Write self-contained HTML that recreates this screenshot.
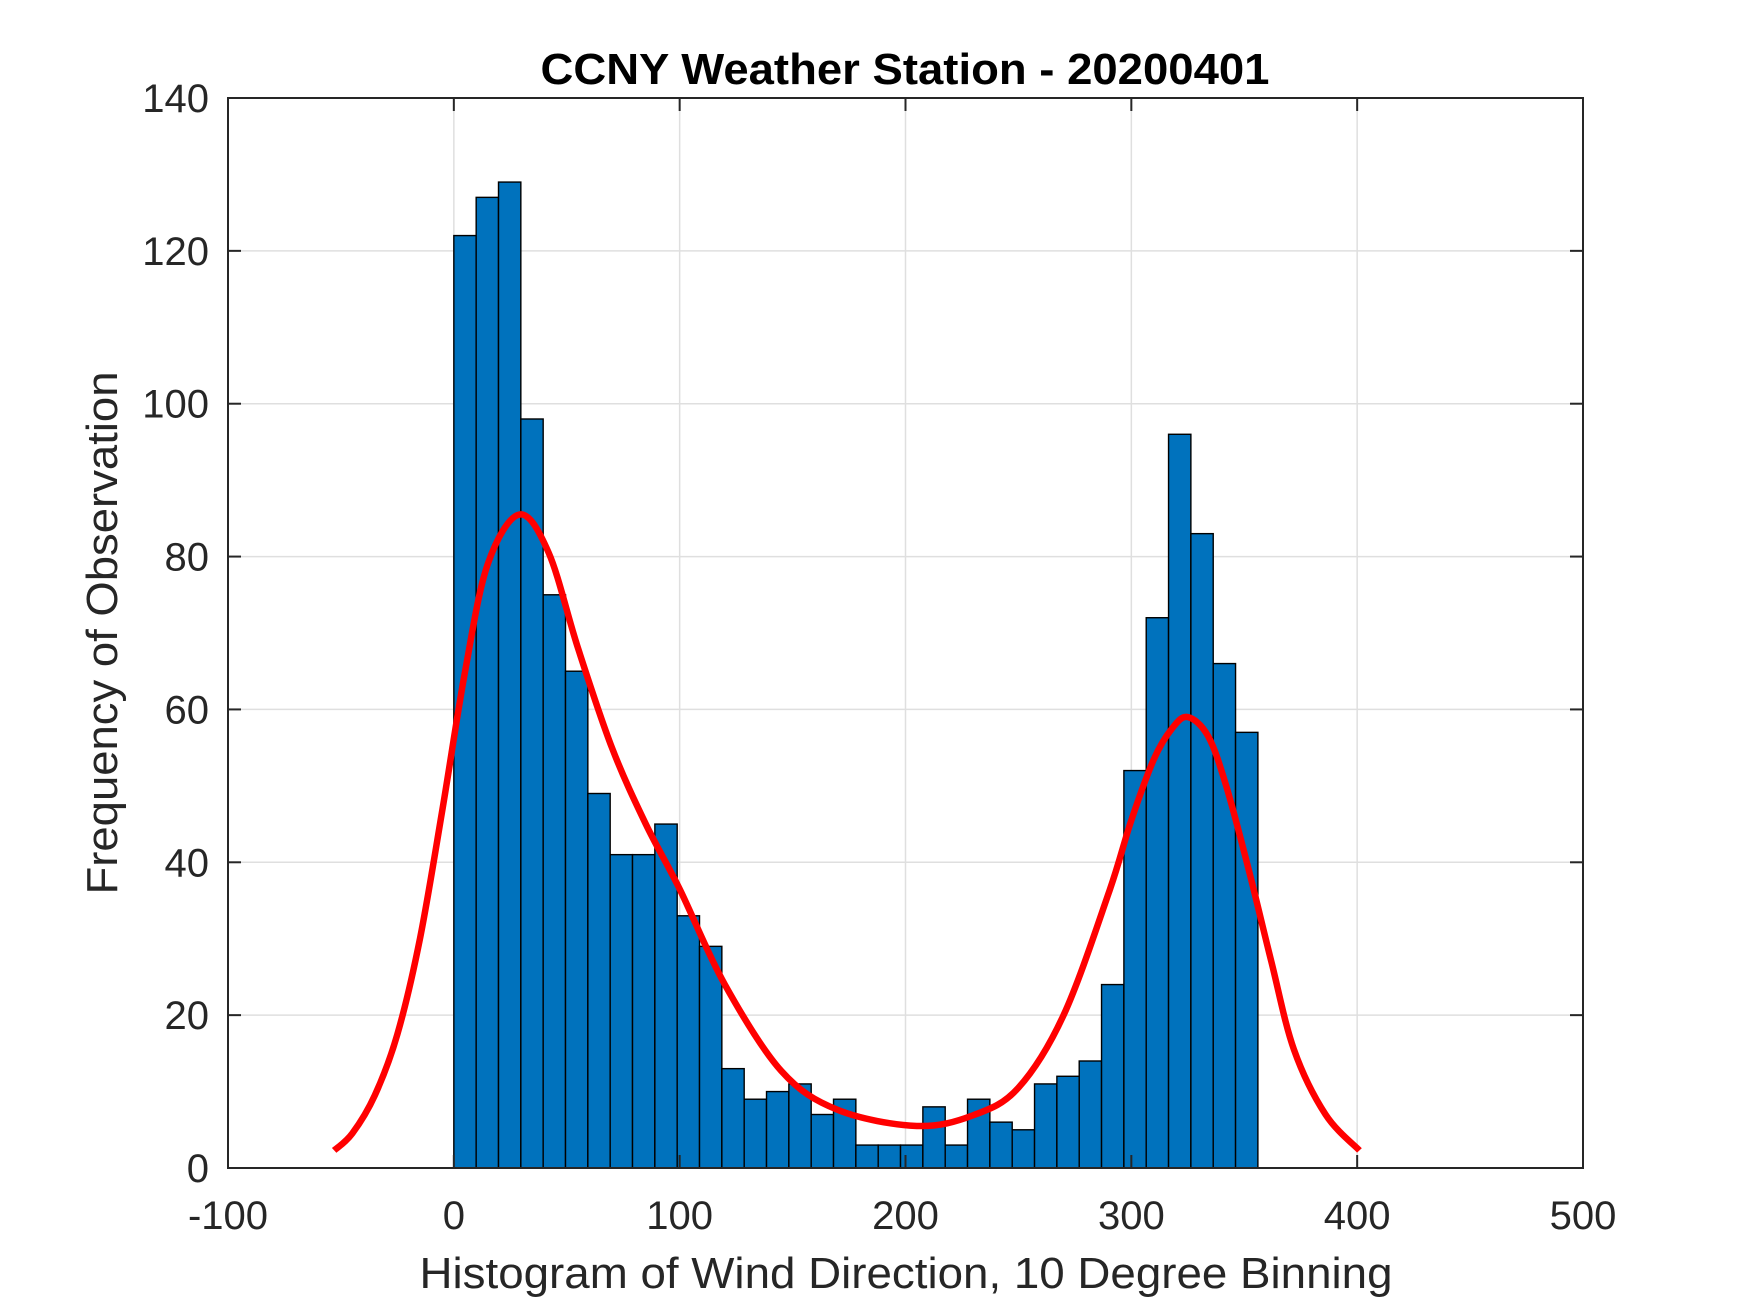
<!DOCTYPE html>
<html><head><meta charset="utf-8"><style>
html,body{margin:0;padding:0;background:#fff;}
svg{display:block;font-family:"Liberation Sans",Arial,sans-serif;}
</style></head><body>
<svg id="chart" width="1750" height="1313" viewBox="0 0 1750 1313" xmlns="http://www.w3.org/2000/svg">
<rect width="1750" height="1313" fill="#fff"/>
<g id="grid"></g>
<g id="bars"></g>
<g id="curve"></g>
<g id="axes"></g>
<text x="905" y="84" text-anchor="middle" font-size="44" font-weight="bold" fill="#000" textLength="729" lengthAdjust="spacingAndGlyphs">CCNY Weather Station - 20200401</text>
<text x="906" y="1288" text-anchor="middle" font-size="44" fill="#262626" textLength="973" lengthAdjust="spacingAndGlyphs">Histogram of Wind Direction, 10 Degree Binning</text>
<text transform="translate(117,633) rotate(-90)" text-anchor="middle" font-size="44" fill="#262626" textLength="523" lengthAdjust="spacingAndGlyphs">Frequency of Observation</text>
</svg>
<script>
const binStart = 0;
const binWidth = 9.89;
const counts = [122,127,129,98,75,65,49,41,41,45,33,29,13,9,10,11,7,9,3,3,3,8,3,9,6,5,11,12,14,24,52,72,96,83,66,57];
const curveX = [-53,-45,-35,-25,-15,-5,5,15,29,42,55,70,85,100,120,145,170,205,230,250,270,290,300,310,318,325,334,342,352,362,372,386,401];
const curveY = [2.3,4.5,9.5,17.5,30,47,65,79,85.5,80.5,68,55,45,36.5,24,12.7,7.6,5.5,6.9,10.5,20,36,45.5,53.5,57.5,59,56.5,50,39,27,15.5,7,2.3];
const xTicks = [-100,0,100,200,300,400,500];
const yTicks = [0,20,40,60,80,100,120,140];

const L=228,R=1583,T=98,B=1168;
const xMin=-100,xMax=500,yMin=0,yMax=140;
function sx(v){return L+(v-xMin)/(xMax-xMin)*(R-L);}
function sy(v){return B-(v-yMin)/(yMax-yMin)*(B-T);}
const NS="http://www.w3.org/2000/svg";
function mk(tag,attrs,parent){const e=document.createElementNS(NS,tag);for(const k in attrs)e.setAttribute(k,attrs[k]);parent.appendChild(e);return e;}
const grid=document.getElementById('grid'),bars=document.getElementById('bars'),curve=document.getElementById('curve'),axes=document.getElementById('axes');

xTicks.forEach(t=>{
  const g=mk('line',{x1:sx(t),x2:sx(t),y1:T,y2:B,stroke:'#dfdfdf','stroke-width':1.5},grid);
  
  
});
yTicks.forEach(t=>{
  const g=mk('line',{x1:L,x2:R,y1:sy(t),y2:sy(t),stroke:'#dfdfdf','stroke-width':1.5},grid);
  
  
});

counts.forEach((c,i)=>{
  const x0=sx(binStart+i*binWidth),x1=sx(binStart+(i+1)*binWidth);
  const r=mk('rect',{x:x0,y:sy(c),width:x1-x0,height:sy(0)-sy(c),fill:'#0072BD',stroke:'#000','stroke-width':1.4},bars);
  
  
});

const pts=curveX.map((x,i)=>[sx(x),sy(curveY[i])]);
let d='M'+pts[0][0]+','+pts[0][1];
for(let i=0;i<pts.length-1;i++){
  const p0=pts[Math.max(0,i-1)],p1=pts[i],p2=pts[i+1],p3=pts[Math.min(pts.length-1,i+2)];
  const c1=[p1[0]+(p2[0]-p0[0])/6,p1[1]+(p2[1]-p0[1])/6];
  const c2=[p2[0]-(p3[0]-p1[0])/6,p2[1]-(p3[1]-p1[1])/6];
  d+=' C'+c1[0]+','+c1[1]+' '+c2[0]+','+c2[1]+' '+p2[0]+','+p2[1];
}
const fit=mk('path',{d:d,fill:'none',stroke:'#ff0000','stroke-width':6.5,'stroke-linejoin':'round'},curve);



const box=mk('rect',{x:L,y:T,width:R-L,height:B-T,fill:'none',stroke:'#262626','stroke-width':2},axes);


xTicks.forEach(t=>{
  mk('line',{x1:sx(t),x2:sx(t),y1:B,y2:B-13,stroke:'#262626','stroke-width':2},axes);
  mk('line',{x1:sx(t),x2:sx(t),y1:T,y2:T+13,stroke:'#262626','stroke-width':2},axes);
  const tx=mk('text',{x:sx(t),y:1229,'text-anchor':'middle','font-size':40,fill:'#262626'},axes);
  tx.textContent=t;
  
  
});
yTicks.forEach(t=>{
  mk('line',{x1:L,x2:L+13,y1:sy(t),y2:sy(t),stroke:'#262626','stroke-width':2},axes);
  mk('line',{x1:R,x2:R-13,y1:sy(t),y2:sy(t),stroke:'#262626','stroke-width':2},axes);
  const tx=mk('text',{x:209,y:sy(t)+14,'text-anchor':'end','font-size':40,fill:'#262626'},axes);
  tx.textContent=t;
  
  
});
</script>
</body></html>
